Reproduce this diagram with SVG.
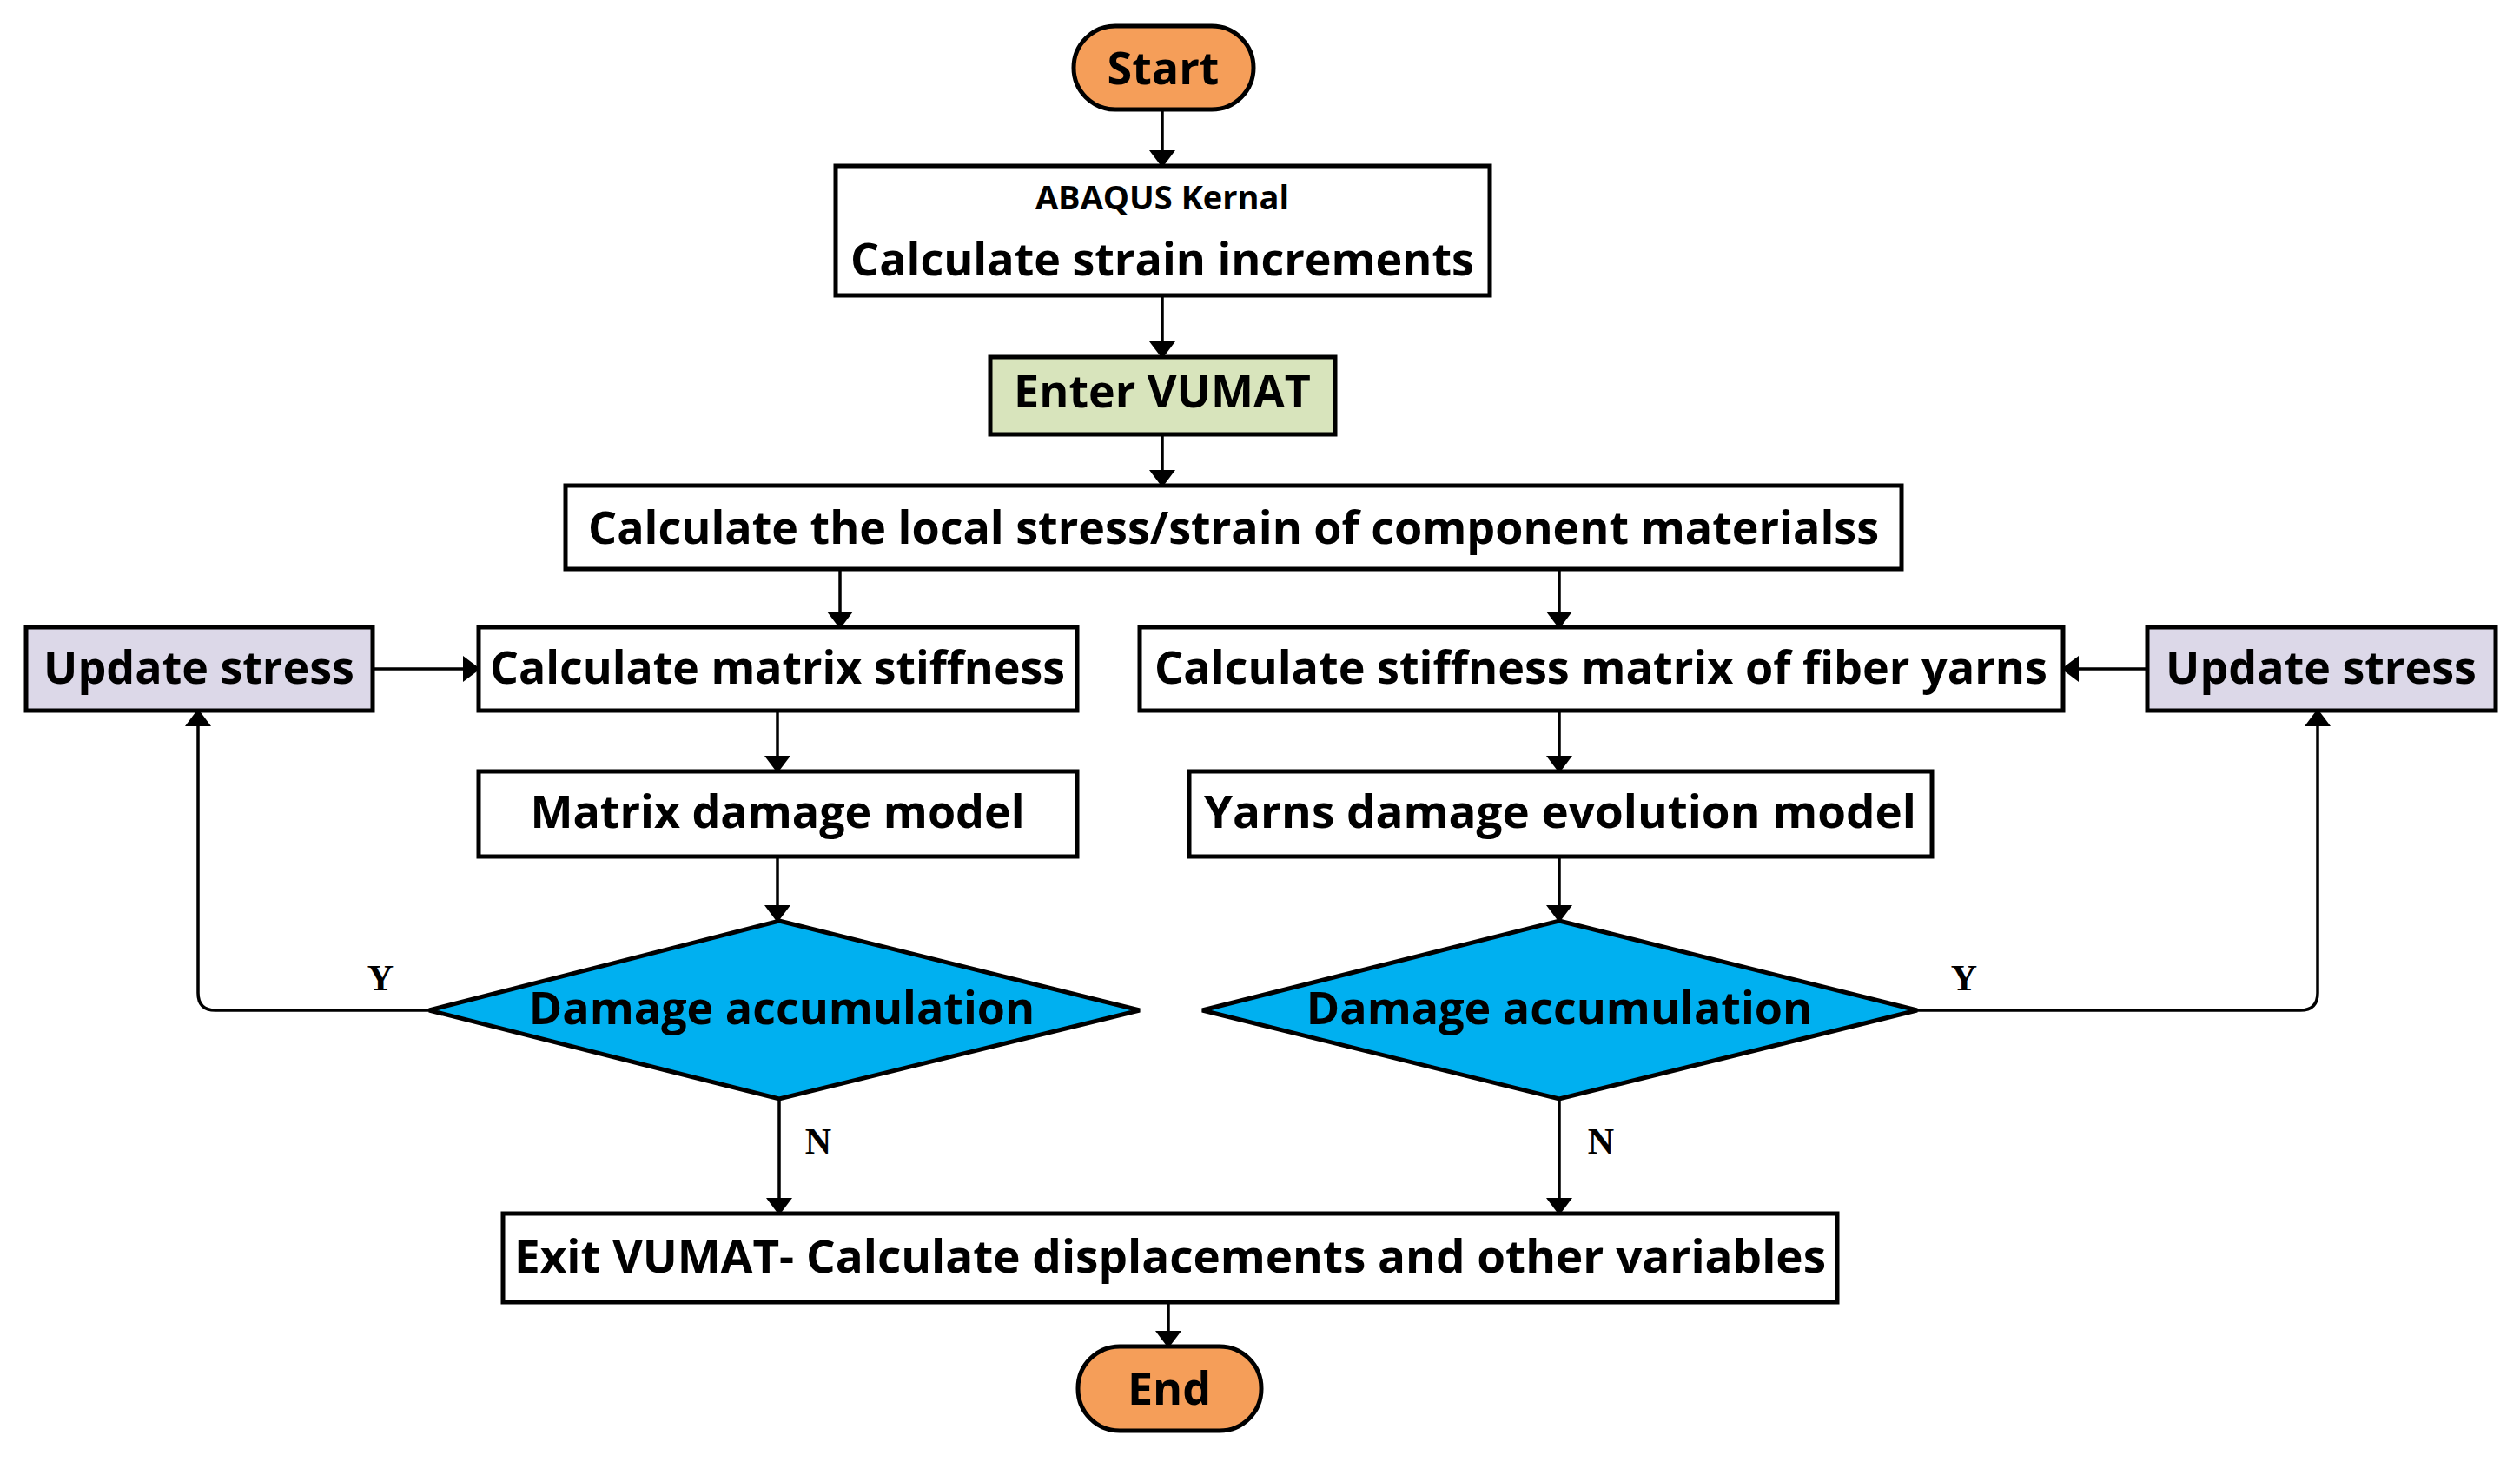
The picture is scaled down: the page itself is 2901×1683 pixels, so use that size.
<svg xmlns="http://www.w3.org/2000/svg" width="2901" height="1683" viewBox="0 0 2901 1683">
<style>
.b{fill:#fff;stroke:#000;stroke-width:5}
.t{font-family:"Open Sans","Noto Sans",sans-serif;font-weight:bold;font-size:52px;text-anchor:middle;dominant-baseline:central;fill:#000}
.c{fill:none;stroke:#000;stroke-width:3.5}
.l{font-family:"Liberation Serif",serif;font-weight:bold;font-size:42px;text-anchor:middle;fill:#000}
</style>
<defs><marker id="a" markerWidth="10" markerHeight="10" refX="9" refY="5" orient="auto" markerUnits="userSpaceOnUse" viewBox="0 0 10 10"><path d="M0,0L10,5L0,10z"/></marker>
<marker id="m" viewBox="0 0 10 10" refX="9" refY="5" markerWidth="20" markerHeight="30" orient="auto" markerUnits="userSpaceOnUse" preserveAspectRatio="none"><path d="M0,0L10,5L0,10z"/></marker></defs>
<g id="connectors">
<path class="c" marker-end="url(#m)" d="M1338,126V191"/>
<path class="c" marker-end="url(#m)" d="M1338,340V411"/>
<path class="c" marker-end="url(#m)" d="M1338,500V559"/>
<path class="c" marker-end="url(#m)" d="M967,655V722"/>
<path class="c" marker-end="url(#m)" d="M1795,655V722"/>
<path class="c" marker-end="url(#m)" d="M429,770H551"/>
<path class="c" marker-end="url(#m)" d="M2472,770H2375"/>
<path class="c" marker-end="url(#m)" d="M895,818V888"/>
<path class="c" marker-end="url(#m)" d="M1795,818V888"/>
<path class="c" marker-end="url(#m)" d="M895,986V1060"/>
<path class="c" marker-end="url(#m)" d="M1795,986V1060"/>
<path class="c" marker-end="url(#m)" d="M494,1163H248Q228,1163 228,1143V818"/>
<path class="c" marker-end="url(#m)" d="M2207,1163H2648Q2668,1163 2668,1143V818"/>
<path class="c" marker-end="url(#m)" d="M897,1265V1397"/>
<path class="c" marker-end="url(#m)" d="M1795,1265V1397"/>
<path class="c" marker-end="url(#m)" d="M1345,1499V1550"/>
<text class="l" x="438" y="1140">Y</text>
<text class="l" x="2261" y="1140">Y</text>
<text class="l" x="942" y="1328">N</text>
<text class="l" x="1843" y="1328">N</text>
</g>
<g id="start"><rect x="1236" y="30" width="207" height="96" rx="48" fill="#f59e59" stroke="#000" stroke-width="5"/><text class="t" x="1339" y="76" font-size="58">Start</text></g>
<g id="abaqus"><rect class="b" x="962" y="191" width="753" height="149"/><text class="t" x="1338" y="226" style="font-size:38px">ABAQUS Kernal</text><text class="t" x="1338" y="296">Calculate strain increments</text></g>
<g id="enter"><rect x="1140" y="411" width="397" height="89" fill="#d8e4bc" stroke="#000" stroke-width="5"/><text class="t" x="1338" y="448">Enter VUMAT</text></g>
<g id="local"><rect class="b" x="651" y="559" width="1538" height="96"/><text class="t" x="1420" y="605" textLength="1486" lengthAdjust="spacingAndGlyphs">Calculate the local stress/strain of component materialss</text></g>
<g id="upd-l"><rect x="30" y="722" width="399" height="96" fill="#dcd8e8" stroke="#000" stroke-width="5"/><text class="t" x="229" y="766">Update stress</text></g>
<g id="matrix-stiff"><rect class="b" x="551" y="722" width="689" height="96"/><text class="t" x="895" y="766" textLength="662" lengthAdjust="spacingAndGlyphs">Calculate matrix stiffness</text></g>
<g id="fiber-stiff"><rect class="b" x="1312" y="722" width="1063" height="96"/><text class="t" x="1843" y="766" textLength="1028" lengthAdjust="spacingAndGlyphs">Calculate stiffness matrix of fiber yarns</text></g>
<g id="upd-r"><rect x="2472" y="722" width="401" height="96" fill="#dcd8e8" stroke="#000" stroke-width="5"/><text class="t" x="2672" y="766">Update stress</text></g>
<g id="matrix-dmg"><rect class="b" x="551" y="888" width="689" height="98"/><text class="t" x="895" y="932">Matrix damage model</text></g>
<g id="yarn-dmg"><rect class="b" x="1369" y="888" width="855" height="98"/><text class="t" x="1796" y="932" textLength="820" lengthAdjust="spacingAndGlyphs">Yarns damage evolution model</text></g>
<g id="dia-l"><path d="M897,1060L1312,1163L897,1265L494,1163Z" fill="#00b0f0" stroke="#000" stroke-width="5"/><text class="t" x="900" y="1158">Damage accumulation</text></g>
<g id="dia-r"><path d="M1795,1060L2207,1163L1795,1265L1384,1163Z" fill="#00b0f0" stroke="#000" stroke-width="5"/><text class="t" x="1795" y="1158">Damage accumulation</text></g>
<g id="exit"><rect class="b" x="579" y="1397" width="1536" height="102"/><text class="t" x="1347" y="1444" textLength="1510" lengthAdjust="spacingAndGlyphs">Exit VUMAT- Calculate displacements and other variables</text></g>
<g id="end"><rect x="1241" y="1550" width="211" height="97" rx="48" fill="#f59e59" stroke="#000" stroke-width="5"/><text class="t" x="1346" y="1596" font-size="58">End</text></g>
</svg>
